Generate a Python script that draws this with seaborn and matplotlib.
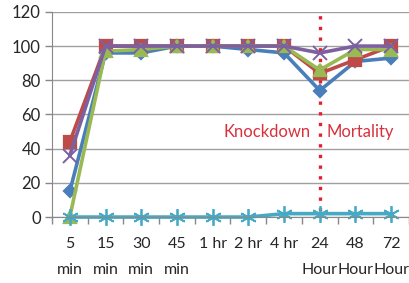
import pandas as pd
import matplotlib
matplotlib.use('Agg')
import matplotlib.pyplot as plt
import seaborn as sns

# Data
time_labels = ['5\nmin', '15\nmin', '30\nmin', '45\nmin', '1 hr', '2 hr', '4 hr',
               '24\nHour', '48\nHour', '72\nHour']
series_a = [15, 96, 96, 100, 100, 98, 96, 74, 91, 93]
series_b = [44, 100, 100, 100, 100, 100, 100, 84, 92, 100]
series_c = [0, 97, 98, 100, 100, 100, 100, 86, 98, 98]
series_d = [36, 100, 100, 100, 100, 100, 100, 96, 100, 100]
series_e = [0, 0, 0, 0, 0, 0, 2, 2, 2, 2]
series_names = ['A', 'B', 'C', 'D', 'E']
split_label = '24\nHour'

colors = ['#4A7EBB', '#BE4B48', '#98B954', '#7D60A0', '#46AAC5']
markers = ['D', 's', '^', 'x', (6, 2, 0)]
marker_sizes = [6.5, 8, 8.5, 10, 12]
edge_widths = [1.6, 1.6, 1.6, 1.4, 1.3]

rows = []
for name, vals in zip(series_names, [series_a, series_b, series_c, series_d, series_e]):
    for t, v in zip(time_labels, vals):
        rows.append({'time': t, 'value': v, 'series': name})
df = pd.DataFrame(rows)

sns.set_style('white')
plt.rcParams['font.family'] = ['Lato', 'DejaVu Sans']

fig = plt.figure(figsize=(4.09, 2.83), dpi=100)
ax = fig.add_axes([0.127, 0.233, 0.873, 0.725])

for name, c, m, ms, mew in zip(series_names, colors, markers, marker_sizes, edge_widths):
    sub = df[df['series'] == name]
    sns.lineplot(data=sub, x='time', y='value', color=c, marker=m, markersize=ms,
                 markeredgecolor=c, markerfacecolor=c, markeredgewidth=mew,
                 linewidth=2.6, legend=False, ax=ax, clip_on=False, sort=False)

ax.set_xlim(-0.5, len(time_labels) - 0.5)
ax.set_ylim(0, 120)
ax.set_yticks(range(0, 121, 20))
ax.set_xticks(range(len(time_labels)))
ax.set_xticklabels(time_labels, linespacing=2.15, va='top')
ax.set_xticks([i - 0.5 for i in range(len(time_labels) + 1)], minor=True)
ax.tick_params(axis='x', which='major', length=0, pad=14, labelsize=11.5)
ax.tick_params(axis='x', which='minor', length=5, color='#888888', width=1, direction='out', bottom=True)
ax.tick_params(axis='y', length=5, color='#888888', width=1, direction='out', left=True, labelsize=12, pad=3)
ax.set_xlabel('')
ax.set_ylabel('')
ax.grid(axis='y', color='#A0A0A0', linewidth=1)
ax.set_axisbelow(True)

for side in ['top', 'right']:
    ax.spines[side].set_visible(False)
ax.spines['left'].set_color('#888888')
ax.spines['bottom'].set_color('#888888')

# dotted divider between knockdown and mortality phases
split_x = time_labels.index(split_label)
ax.axvline(split_x, ymin=0.03, ymax=1.0, color='#E3202E', linestyle=(0, (1, 2.2)),
           linewidth=2.4, zorder=1)
ax.text(split_x - 0.25, 50, 'Knockdown', color='#D9303C', fontsize=12,
        ha='right', va='center')
ax.text(split_x + 0.2, 50, 'Mortality', color='#D9303C', fontsize=12,
        ha='left', va='center')

plt.savefig('out.png', dpi=100)
